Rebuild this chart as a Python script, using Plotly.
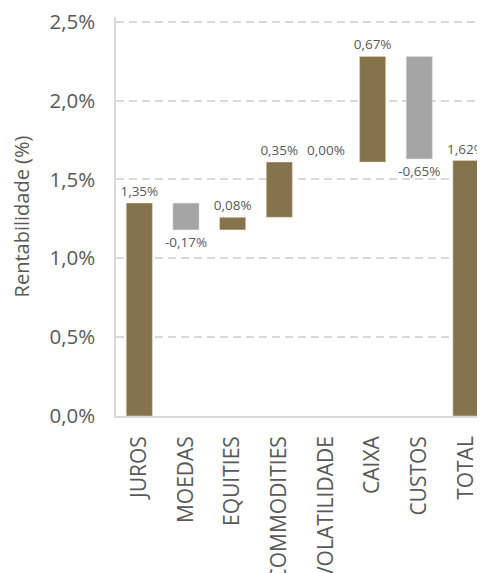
import plotly.graph_objects as go

categories = ["JUROS", "MOEDAS", "EQUITIES", "COMMODITIES", "VOLATILIDADE", "CAIXA", "CUSTOS", "TOTAL"]
values = [1.35, -0.17, 0.08, 0.35, 0.00, 0.67, -0.65, 1.62]
measures = ["relative"] * 7 + ["absolute"]
y_ticks = [0.0, 0.5, 1.0, 1.5, 2.0, 2.5]

BROWN = "#85744B"
GRAY = "#A6A5A6"
TXT = "#595959"
FONT = "Open Sans, Noto Sans, sans-serif"

labels = [f"{v:.2f}%".replace(".", ",") for v in values]
tick_text = [f"{t:.1f}%".replace(".", ",") for t in y_ticks]

fig = go.Figure(go.Waterfall(
    x=categories,
    y=values,
    measure=measures,
    text=labels,
    textposition="outside",
    textfont=dict(size=13.5, color=TXT, family=FONT),
    increasing=dict(marker=dict(color=BROWN, line=dict(color="#E8DCC8", width=0.5))),
    decreasing=dict(marker=dict(color=GRAY, line=dict(color="#E0E0E0", width=0.5))),
    totals=dict(marker=dict(color=BROWN, line=dict(color="#E8DCC8", width=0.5))),
    connector=dict(visible=False),
    cliponaxis=False,
    constraintext="none",
))

fig.update_layout(
    width=485, height=573,
    margin=dict(l=108, r=0, t=9, b=165, autoexpand=False),
    paper_bgcolor="white", plot_bgcolor="white",
    showlegend=False,
    waterfallgap=0.44,
    font=dict(family=FONT, color=TXT, size=20),
)
fig.update_xaxes(
    range=[-0.5, 7.58],
    tickangle=-90,
    automargin=False,
    showline=True, linecolor="#D9D9D9", linewidth=1.5,
    showgrid=False, ticks="",
    tickfont=dict(size=21, color=TXT, family=FONT),
    ticklabelstandoff=10,
    ticklabeloverflow="allow",
)
fig.update_yaxes(
    range=[0, 2.53],
    tickvals=y_ticks,
    ticktext=tick_text,
    automargin=False,
    showline=True, linecolor="#D9D9D9", linewidth=1.5,
    showgrid=True, gridcolor="#D9D9D9", gridwidth=1.6, griddash="8px,5px",
    zeroline=False, ticks="",
    ticklabelstandoff=15,
    ticklabeloverflow="allow",
    tickfont=dict(size=20.5, color=TXT, family=FONT),
    title=dict(text="Rentabilidade (%)", font=dict(size=20, color=TXT, family=FONT), standoff=20),
)

fig.write_html("out.html")
